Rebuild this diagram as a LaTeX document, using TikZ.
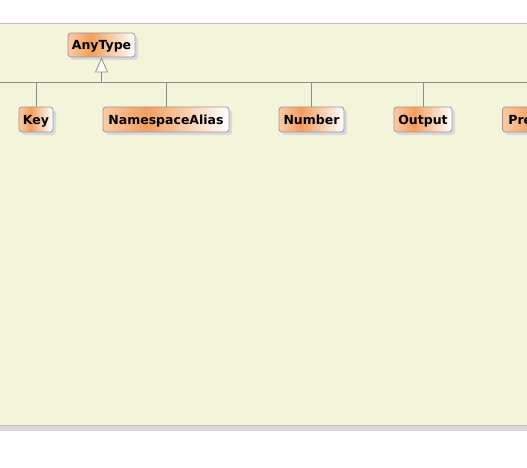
\documentclass[tikz,border=0pt]{standalone}
\usepackage{fontspec}
\setsansfont{DejaVu Sans}
\usetikzlibrary{arrows.meta, shadows}
\definecolor{panelbg}{HTML}{F4F4DB}
\definecolor{umlleft}{HTML}{F9CBA6}
\definecolor{umlpeak}{HTML}{F39E5E}
\pgfdeclarehorizontalshading{umlgrad}{100bp}{color(0bp)=(umlleft);
  color(25bp)=(umlleft); color(42bp)=(umlpeak); color(75bp)=(white);
  color(100bp)=(white)}
\tikzset{
  umlnode/.style = {inner sep=0pt, minimum height=25pt, text centered,
    text height=10pt, text depth=0.5pt,
    font=\sffamily\bfseries\fontsize{12.5pt}{14pt}\selectfont},
  umlclass/.style = {umlnode, rectangle, rounded corners=3pt, draw=black!40,
    line width=0.8pt, shading=umlgrad,
    drop shadow={shadow xshift=3pt, shadow yshift=-3pt, fill=black!15,
      opacity=1}},% classe, fond orange
  link/.style = {draw=black!45, line width=0.8pt},% trait du bus
  gen/.style = {link, -{Triangle[length=15pt, width=13pt, fill=white]}}% heritage
}

\begin{document}
\begin{tikzpicture}[x=1pt, y=-1pt]
\clip (0,0) rectangle (527,468);
% panneau
\fill[black!15] (-2,425) rectangle (529,431);
\fill[panelbg] (-2,23) rectangle (529,425);
\draw[black!25, line width=0.8pt] (-2,23) -- (529,23);
\draw[black!25, line width=0.8pt] (-2,425) -- (529,425);
% classes
\node (anytype) [umlclass, minimum width=67pt, minimum height=24pt] at (101.5,45) {AnyType};
\node (key) [umlclass, minimum width=34pt] at (36,119.5) {Key};
\node (nsalias) [umlclass, minimum width=126pt] at (166,119.5) {NamespaceAlias};
\node (number) [umlclass, minimum width=65pt] at (311.5,119.5) {Number};
\node (output) [umlclass, minimum width=58pt] at (423,119.5) {Output};
\node (pre) [umlclass, anchor=west, text width=80pt, align=left,
  inner xsep=6pt] at (502,119.5) {Pre};
% bus
\coordinate (busL) at (-2,82);
\coordinate (busR) at (529,82);
\draw[link] (busL) -- (busR);
\draw[link] (key.north) -- (key.north |- busL);
\draw[link] (nsalias.north) -- (nsalias.north |- busL);
\draw[link] (number.north) -- (number.north |- busL);
\draw[link] (output.north) -- (output.north |- busL);
\draw[gen] (anytype.south |- busL) -- (anytype.south);
\end{tikzpicture}
\end{document}
